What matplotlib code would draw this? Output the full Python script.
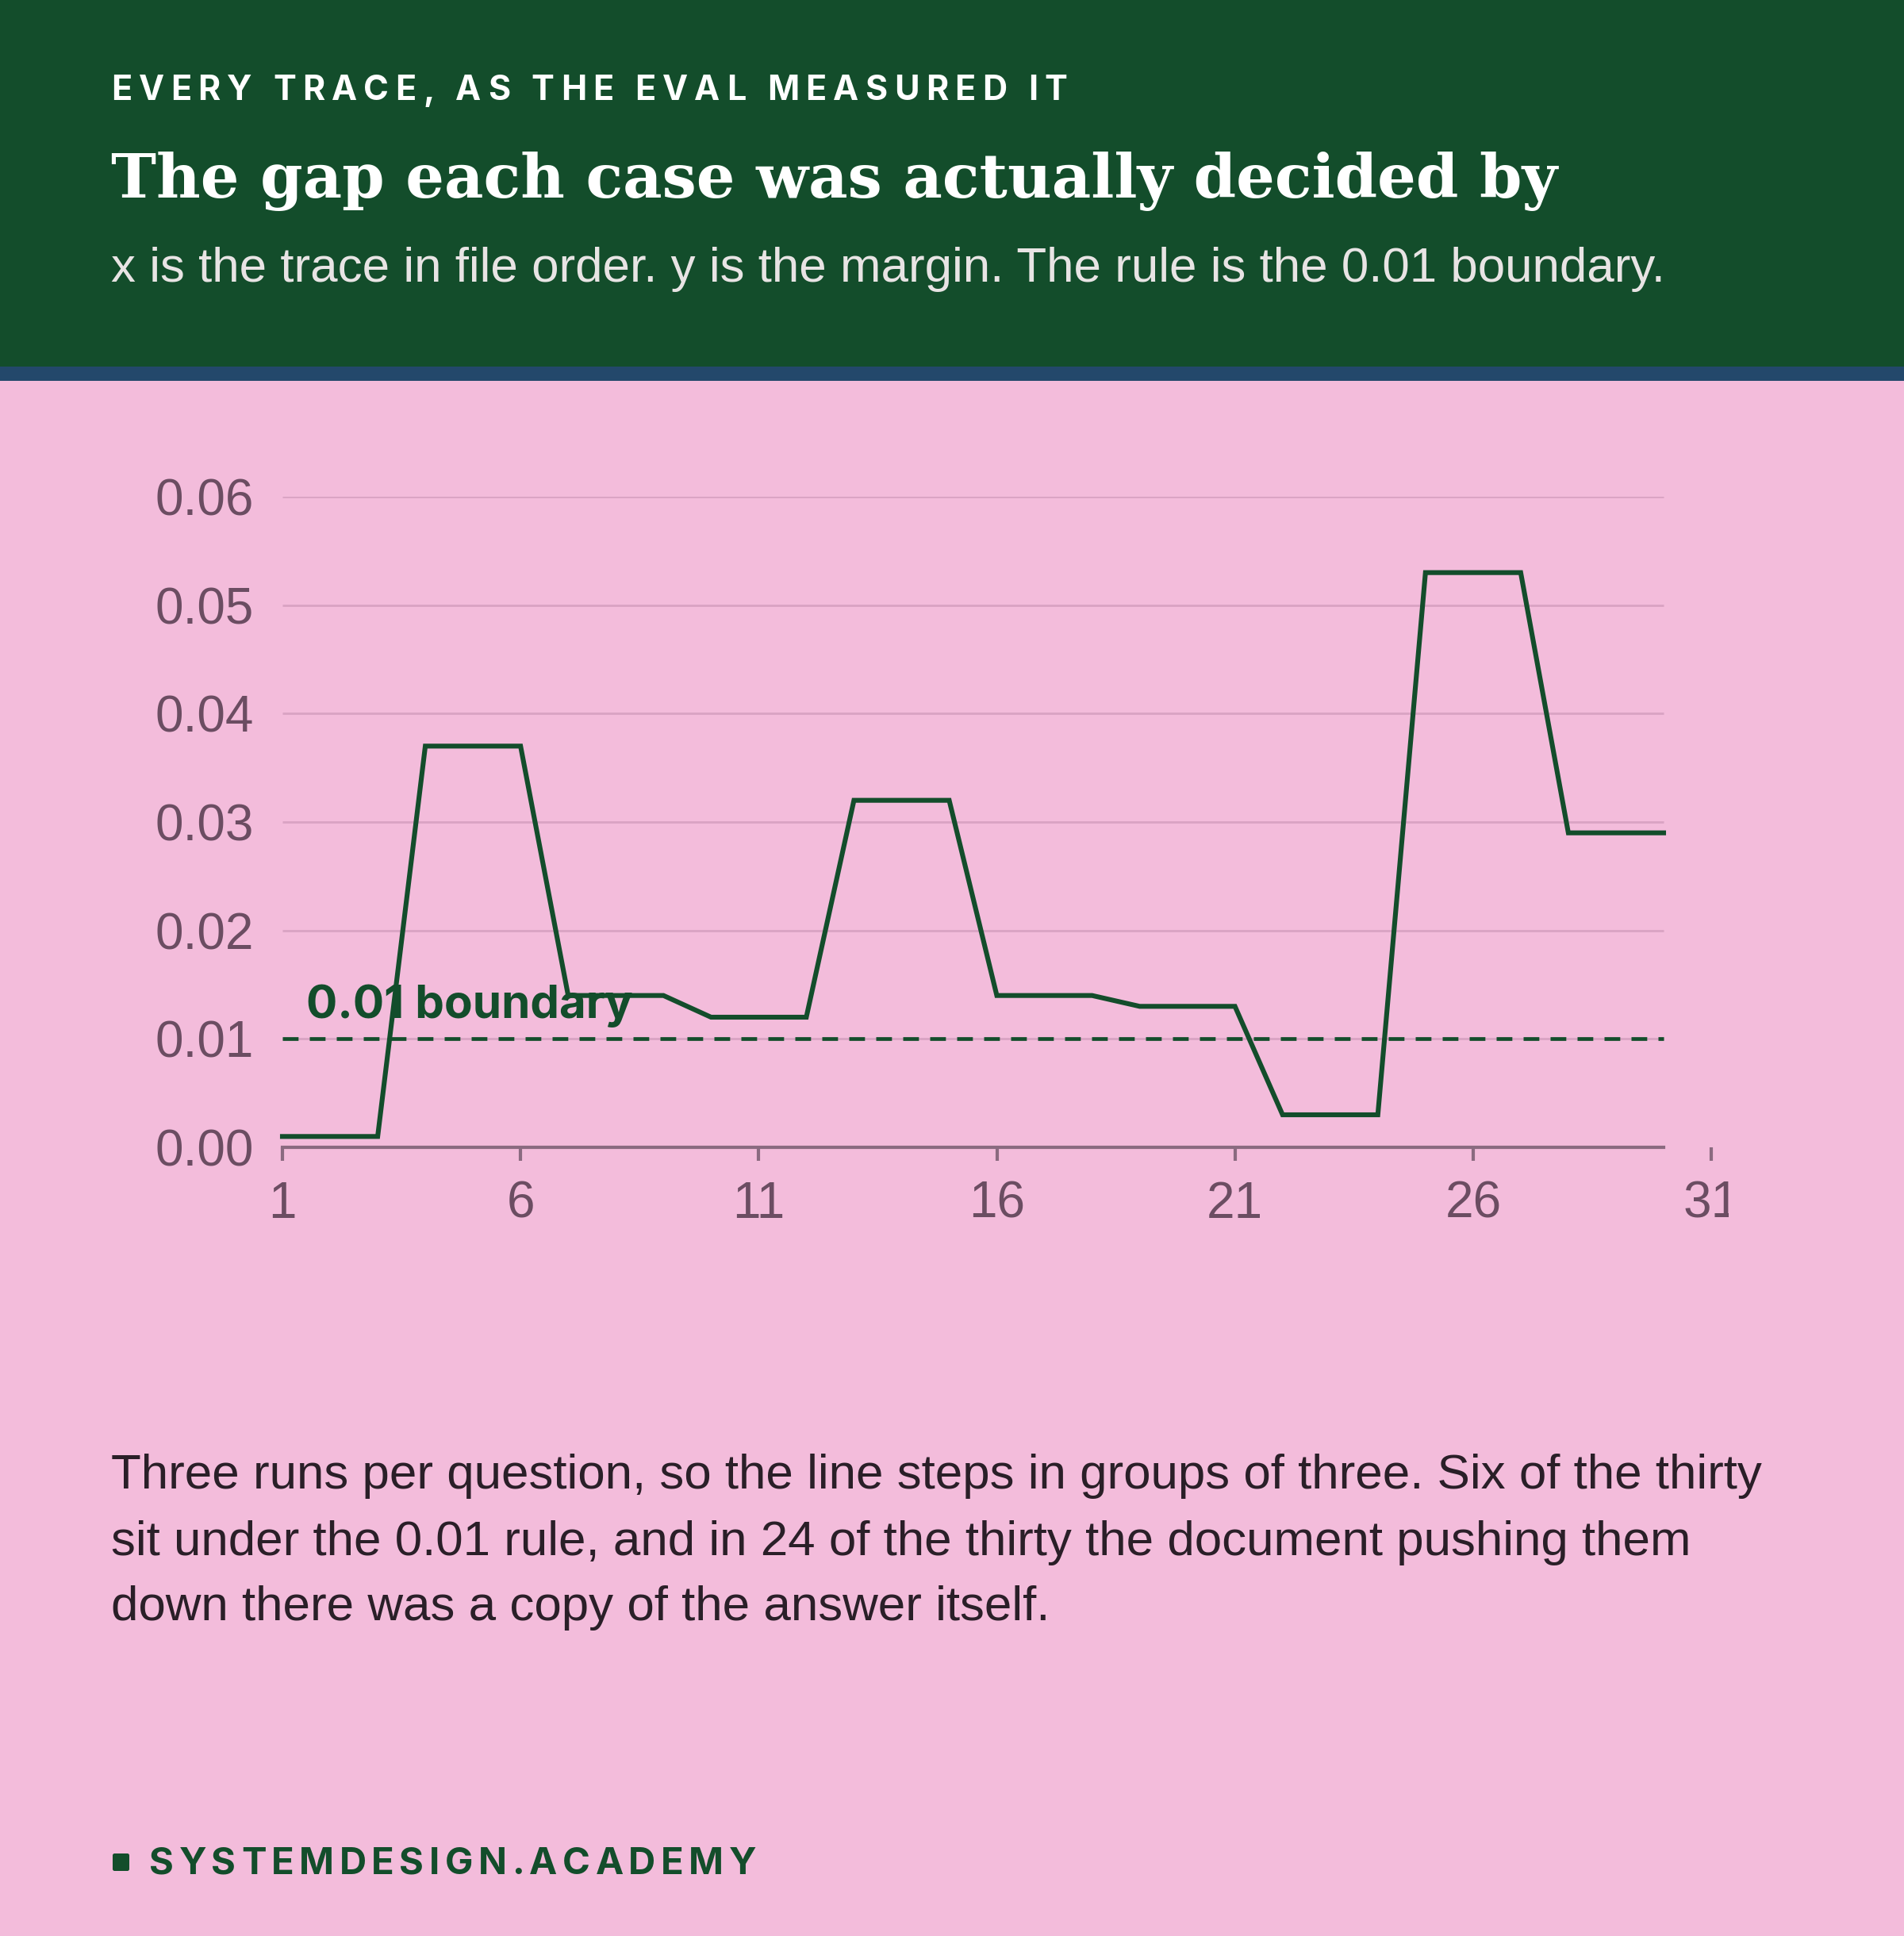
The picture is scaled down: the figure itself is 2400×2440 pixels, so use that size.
import matplotlib
matplotlib.use('Agg')
import matplotlib.pyplot as plt
from matplotlib.patches import Rectangle, FancyBboxPatch
from matplotlib.font_manager import FontProperties
from matplotlib.transforms import Bbox, TransformedBbox

# trace margins in file order, three runs per question
traces = list(range(1, 31))
margins = [0.001, 0.001, 0.001,
           0.037, 0.037, 0.037,
           0.014, 0.014, 0.014,
           0.012, 0.012, 0.012,
           0.032, 0.032, 0.032,
           0.014, 0.014, 0.014,
           0.013, 0.013, 0.013,
           0.003, 0.003, 0.003,
           0.053, 0.053, 0.053,
           0.029, 0.029, 0.029]
boundary = 0.01
x_ticks = [1, 6, 11, 16, 21, 26, 31]
y_ticks = [0.00, 0.01, 0.02, 0.03, 0.04, 0.05, 0.06]

kicker = 'EVERY TRACE, AS THE EVAL MEASURED IT'
title = 'The gap each case was actually decided by'
subtitle = 'x is the trace in file order. y is the margin. The rule is the 0.01 boundary.'
body = ['Three runs per question, so the line steps in groups of three. Six of the thirty',
        'sit under the 0.01 rule, and in 24 of the thirty the document pushing them',
        'down there was a copy of the answer itself.']
footer = 'SYSTEMDESIGN.ACADEMY'

PINK = '#f3bcdb'
GREEN = '#134d2b'
BLUE = '#23486b'
TICKC = '#6b4d62'
GRIDC = '#d9a3c3'
SPINEC = '#8a6a80'

W, H = 2400, 2440
fig = plt.figure(figsize=(12, 12.2), dpi=200, facecolor=PINK)

def fy(py):
    return 1 - py / H

# header block + stripe
fig.patches.append(Rectangle((0, fy(462)), 1, 462 / H, transform=fig.transFigure,
                             facecolor=GREEN, edgecolor='none', zorder=0))
fig.patches.append(Rectangle((0, fy(480)), 1, 18 / H, transform=fig.transFigure,
                             facecolor=BLUE, edgecolor='none', zorder=0))

renderer = fig.canvas.get_renderer()

def tracked(x0, x1, base, s, size, color, family='Inter', weight='bold'):
    # letter-spaced text stretched to span x0..x1 pixels
    fp = FontProperties(family=family, weight=weight, size=size)
    widths = []
    for ch in s:
        w, h, d = renderer.get_text_width_height_descent(ch, fp, ismath=False)
        widths.append(w)
    extra = (x1 - x0 - sum(widths)) / (len(s) - 1)
    x = x0
    for ch, w in zip(s, widths):
        fig.text(x / W, fy(base), ch, fontproperties=fp, color=color, va='baseline')
        x += w + extra

tracked(140, 1345, 126, kicker, 15.5, 'white')
fig.text(140 / W, fy(249), title, family='DejaVu Serif', weight='bold', fontsize=27.6,
         color='white', va='baseline')
fig.text(140 / W, fy(355), subtitle, family='Liberation Sans', fontsize=22.3,
         color='#e8e4e4', va='baseline')

# chart
ax = fig.add_axes([356 / W, 1 - 1446 / H, (2157 - 356) / W, (1446 - 626) / H])
ax.set_facecolor('none')
ax.set_xlim(1, 31)
ax.set_ylim(0, 0.06)
ax.hlines(y_ticks[1:], 1, 30, colors=GRIDC, linewidth=1.0, zorder=1)
ax.hlines(boundary, 1, 30, colors=GREEN, linewidth=1.7, linestyles=(0, (4.2, 3.0)), zorder=2)
ax.plot(traces, margins, color=GREEN, linewidth=2.2, zorder=3, clip_on=False,
        solid_joinstyle='miter')
ax.text(1.5, 0.0119, '0.01 boundary', family='Inter', weight='bold', fontsize=21,
        color=GREEN, va='baseline', zorder=4)

for s in ['top', 'right', 'left']:
    ax.spines[s].set_visible(False)
ax.spines['bottom'].set_color(SPINEC)
ax.spines['bottom'].set_linewidth(1.5)
ax.spines['bottom'].set_bounds(1, 30)
ax.set_xticks(x_ticks)
ax.set_xticklabels([str(v) for v in x_ticks])
ax.set_yticks(y_ticks)
ax.set_yticklabels(['%.2f' % v for v in y_ticks])
ax.tick_params(axis='x', length=6, width=1.5, color=SPINEC, pad=9, labelsize=23,
               labelcolor=TICKC)
ax.tick_params(axis='y', length=0, pad=13, labelsize=23, labelcolor=TICKC)
for lab in ax.get_xticklabels() + ax.get_yticklabels():
    lab.set_family('Liberation Sans')

fig.canvas.draw()
clip = TransformedBbox(Bbox.from_extents(0, 0, 2179 / W, 1), fig.transFigure)
for lab in ax.get_xticklabels():
    lab.set_clip_box(clip)
    lab.set_clip_on(True)

# body text
for line, base in zip(body, [1876, 1960, 2042]):
    fig.text(140 / W, fy(base), line, family='Liberation Sans', fontsize=22.3,
             color='#2a1f28', va='baseline')

# footer
fig.patches.append(FancyBboxPatch((142 / W, fy(2358)), 21 / W, 22 / H,
                                  boxstyle='round,pad=0,rounding_size=0.001',
                                  transform=fig.transFigure, facecolor=GREEN,
                                  edgecolor='none'))
tracked(188, 953, 2362, footer, 17, GREEN)

fig.savefig('out.png', dpi=200, facecolor=PINK)
